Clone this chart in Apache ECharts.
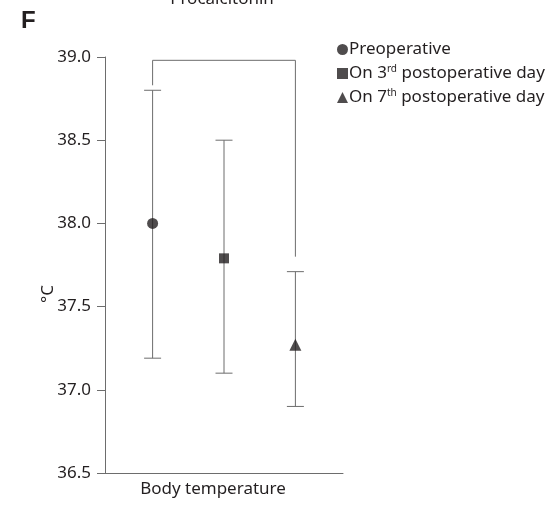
<!DOCTYPE html>
<html>
<head>
<meta charset="utf-8">
<script src="https://cdn.jsdelivr.net/npm/echarts@6/dist/echarts.min.js"></script>
<style>html,body{margin:0;padding:0;background:#fff}#c{width:558px;height:506px}</style>
</head>
<body>
<div id="c"></div>
<script>
const categories = ['Body temperature'];
const groups = ['Preoperative', 'On 3rd postoperative day', 'On 7th postoperative day'];
const groupLabels = ['Preoperative', 'On 3{sup|rd} postoperative day', 'On 7{sup|th} postoperative day'];
const groupPos = [0.2, 0.5, 0.8];
const means = [38.0, 37.79, 37.27];
const upper = [38.8, 38.5, 37.71];
const lower = [37.19, 37.1, 36.9];
const symbols = ['circle', 'rect', 'triangle'];
const symbolSizes = [11, 10, 12];
const bracketX = [0.2, 0.2, 0.8, 0.8];
const bracketY = [38.83, 38.98, 38.98, 37.8];
const yMin = 36.5, yMax = 39.0, yStep = 0.5;

const FONT = 'Noto Sans';
const AX = '#6d6d6d';
const MK = '#231f20';

const chart = echarts.init(document.getElementById('c'), null, {renderer: 'canvas'});

const series = [];
groups.forEach((g, i) => {
  series.push({
    type: 'custom',
    xAxisIndex: 1,
    yAxisIndex: 0,
    silent: true,
    z: 2,
    data: [[groupPos[i], lower[i], upper[i]]],
    renderItem: function (params, api) {
      const lo = api.coord([api.value(0), api.value(1)]);
      const hi = api.coord([api.value(0), api.value(2)]);
      const hw = 8.5;
      const st = {stroke: AX, lineWidth: 1};
      return {
        type: 'group',
        children: [
          {type: 'line', shape: {x1: lo[0], y1: lo[1], x2: hi[0], y2: hi[1]}, style: st},
          {type: 'line', shape: {x1: lo[0] - hw, y1: lo[1], x2: lo[0] + hw, y2: lo[1]}, style: st},
          {type: 'line', shape: {x1: hi[0] - hw, y1: hi[1], x2: hi[0] + hw, y2: hi[1]}, style: st}
        ]
      };
    }
  });
  series.push({
    name: g,
    type: 'scatter',
    xAxisIndex: 1,
    yAxisIndex: 0,
    symbol: symbols[i],
    symbolSize: symbolSizes[i],
    itemStyle: {color: MK},
    z: 5,
    data: [[groupPos[i], means[i]]]
  });
});
series.push({
  type: 'line',
  xAxisIndex: 1,
  yAxisIndex: 0,
  showSymbol: false,
  symbol: 'none',
  silent: true,
  lineStyle: {color: AX, width: 1},
  data: bracketX.map((x, k) => [x, bracketY[k]])
});

const labelMap = {};
groups.forEach((g, i) => { labelMap[g] = groupLabels[i]; });

chart.setOption({
  animation: false,
  backgroundColor: '#fff',
  textStyle: {fontFamily: FONT},
  grid: {left: 105, right: 215, top: 57, bottom: 33, containLabel: false},
  legend: {
    data: groups.map(g => ({name: g, itemStyle: {color: MK}})),
    orient: 'vertical',
    left: 332,
    top: 35,
    itemWidth: 11,
    itemHeight: 11,
    itemGap: 5,
    selectedMode: false,
    formatter: n => labelMap[n],
    textStyle: {
      fontFamily: FONT,
      fontSize: 17,
      color: '#231f20',
      padding: [0, 0, 0, -4],
      lineHeight: 19,
      rich: {
        sup: {fontSize: 10, verticalAlign: 'top', lineHeight: 12, fontFamily: FONT, color: '#231f20', padding: [0, 0, 6, 0]}
      }
    }
  },
  xAxis: [
    {
      type: 'category',
      data: categories,
      axisLine: {lineStyle: {color: AX, width: 1}},
      axisTick: {alignWithLabel: true, length: 6, lineStyle: {color: AX}},
      axisLabel: {fontFamily: FONT, fontSize: 17, color: '#231f20', margin: 8, padding: [0, 22, 0, 0]},
      splitLine: {show: false}
    },
    {
      type: 'value',
      min: 0,
      max: 1,
      show: false
    }
  ],
  yAxis: {
    type: 'value',
    min: yMin,
    max: yMax,
    interval: yStep,
    axisLine: {show: true, lineStyle: {color: AX, width: 1}},
    axisTick: {show: true, length: 8, lineStyle: {color: AX}},
    axisLabel: {fontFamily: FONT, fontSize: 17, color: '#231f20', margin: 14, formatter: v => v.toFixed(1)},
    splitLine: {show: false}
  },
  graphic: [
    {type: 'text', left: 21, top: 9, style: {text: 'F', font: 'bold 24px "Liberation Sans"', fill: '#231f20'}},
    {type: 'text', x: 222, y: 8, style: {text: 'Procalcitonin', font: '17px "Noto Sans"', fill: '#231f20', align: 'center', verticalAlign: 'bottom'}},
    {type: 'text', x: 48, y: 294, rotation: Math.PI / 2, style: {text: '°C', font: '17px "Noto Sans"', fill: '#231f20', align: 'center', verticalAlign: 'middle'}}
  ],
  series: series
});
</script>
</body>
</html>
